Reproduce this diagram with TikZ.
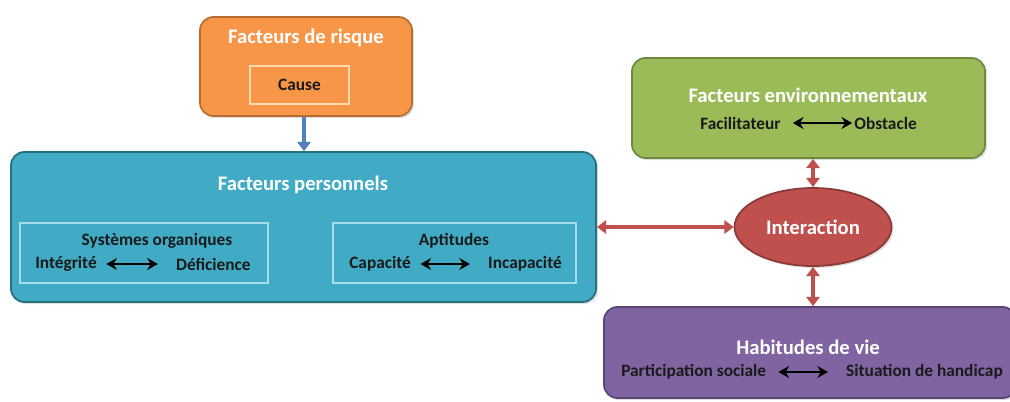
\documentclass[tikz,border=0pt]{standalone}
\usepackage{fontspec}
\setmainfont{Carlito}
\usetikzlibrary{arrows.meta,shapes.geometric,shadows}
\definecolor{orfill}{HTML}{F79646}
\definecolor{ordraw}{HTML}{B66D31}
\definecolor{tefill}{HTML}{41AAC4}
\definecolor{tedraw}{HTML}{24707F}
\definecolor{teinner}{HTML}{A8DCE8}
\definecolor{grfill}{HTML}{9BBB59}
\definecolor{grdraw}{HTML}{6E8B3D}
\definecolor{rdfill}{HTML}{C0504D}
\definecolor{rddraw}{HTML}{8B3A38}
\definecolor{pufill}{HTML}{8064A2}
\definecolor{pudraw}{HTML}{5B4575}
\definecolor{bluearr}{HTML}{4F81BD}
\definecolor{dark}{HTML}{1A1A1A}
\tikzset{
  bigbox/.style={rounded corners=10pt, line width=1.3pt, drop shadow={opacity=0.25,shadow xshift=1.5pt,shadow yshift=-1.5pt}},
  innerbox/.style={draw=teinner, line width=1.1pt},
  title/.style={text=white, font=\fontsize{15.5}{18}\selectfont\bfseries, inner sep=0pt},
  body/.style={text=dark, font=\fontsize{13}{15}\selectfont\bfseries, inner sep=0pt},
  redarr/.style={draw=rdfill, line width=2.8pt, {Triangle[width=10pt,length=7pt]}-{Triangle[width=10pt,length=7pt]}},
  blkarr/.style={draw=black, line width=2.2pt, {Stealth[width=9pt,length=8pt]}-{Stealth[width=9pt,length=8pt]}}
}
\begin{document}
\begin{tikzpicture}[x=0.75pt,y=-0.75pt]
\useasboundingbox (0,0) rectangle (1010,401);
% orange
\node[bigbox, fill=orfill, draw=ordraw, minimum width=159pt, minimum height=74.25pt] (risk) at (306,66.5) {};
\node[title] (riskt) at (306,38) {Facteurs de risque};
\node[draw=orange!30!white, line width=1pt, fill=orfill, minimum width=74.25pt, minimum height=28.5pt, text=dark, font=\fontsize{13}{15}\selectfont\bfseries] (cause) at (299.5,85) {Cause};
% teal
\node[bigbox, fill=tefill, draw=tedraw, minimum width=438.75pt, minimum height=112.5pt] (pers) at (303.5,227) {};
\node[title] (perst) at (303,185) {Facteurs personnels};
\node[innerbox, minimum width=186pt, minimum height=45pt] (sys) at (144,253) {};
\node[body] (syst) at (157,241) {Systèmes organiques};
\node[body, anchor=west] (integ) at (35,264) {Intégrité};
\node[body, anchor=east] (defic) at (251,264) {Déficience};
\node[innerbox, minimum width=182.25pt, minimum height=45pt] (apt) at (454.5,253) {};
\node[body] (aptt) at (454,241) {Aptitudes};
\node[body, anchor=west] (capa) at (349,264) {Capacité};
\node[body, anchor=east] (incap) at (562,264) {Incapacité};
% green
\node[bigbox, fill=grfill, draw=grdraw, minimum width=264.75pt, minimum height=75pt] (env) at (808.5,108) {};
\node[title] (envt) at (808,95) {Facteurs environnementaux};
\node[body, anchor=west] (facil) at (700,123) {Facilitateur};
\node[body, anchor=east] (obst) at (917,123) {Obstacle};
% purple
\node[bigbox, fill=pufill, draw=pudraw, minimum width=309pt, minimum height=68.25pt] (hab) at (810,352.5) {};
\node[title] (habt) at (808,347) {Habitudes de vie};
\node[body, anchor=west] (part) at (621,372) {Participation sociale};
\node[body, anchor=east] (sith) at (1003,372) {Situation de handicap};
% ellipse
\node[ellipse, fill=rdfill, draw=rddraw, line width=1.3pt, minimum width=117.75pt, minimum height=58.5pt, text=white, font=\fontsize{15.5}{18}\selectfont\bfseries, drop shadow={opacity=0.25,shadow xshift=1.5pt,shadow yshift=-1.5pt}] (inter) at (813,227) {Interaction};
% arrows
\draw[draw=bluearr, line width=2.8pt, -{Triangle[width=10pt,length=7pt]}] (risk.south -| 304,0) -- (pers.north -| 304,0);
\draw[redarr] (pers.east) -- (inter.west);
\draw[redarr] (env.south -| inter.north) -- (inter.north);
\draw[redarr] (inter.south) -- (inter.south |- hab.north);
\draw[blkarr] ([xshift=7pt]integ.east) -- ([xshift=-13.5pt]defic.west);
\draw[blkarr] ([xshift=7pt]capa.east) -- ([xshift=-13.5pt]incap.west);
\draw[blkarr] ([xshift=9pt]facil.east) -- ([xshift=-1.5pt]obst.west);
\draw[blkarr] ([xshift=9pt]part.east) -- ([xshift=-13.5pt]sith.west);
\end{tikzpicture}
\end{document}
